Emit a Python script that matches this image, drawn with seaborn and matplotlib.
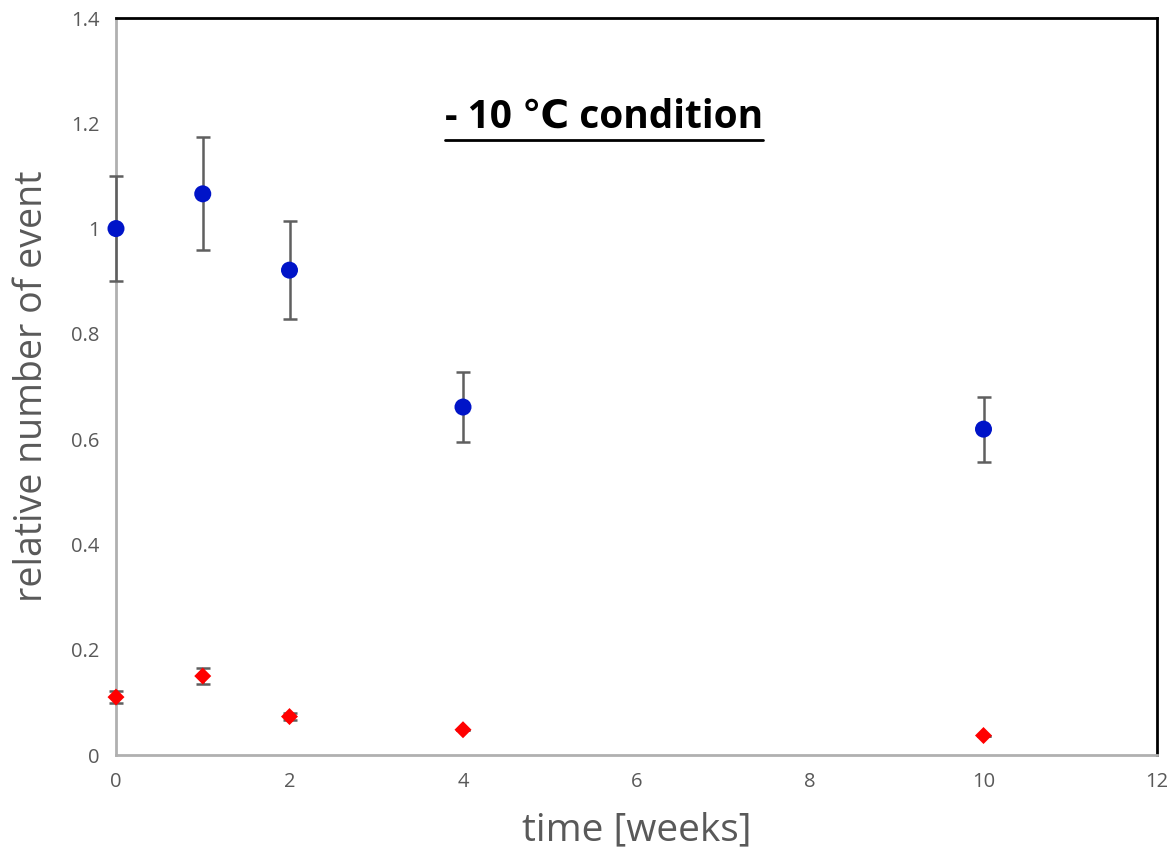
import numpy as np
import pandas as pd
import matplotlib
matplotlib.use('Agg')
import matplotlib.pyplot as plt
import seaborn as sns
from matplotlib.lines import Line2D

# data
weeks = [0, 1, 2, 4, 10]
blue_vals = [1.0, 1.066, 0.921, 0.661, 0.619]
blue_err = [0.10, 0.107, 0.093, 0.067, 0.062]
red_vals = [0.110, 0.150, 0.073, 0.048, 0.037]
red_err = [0.012, 0.016, 0.006, 0.0, 0.0]

sns.set_style('white')
plt.rcParams['font.family'] = ['Open Sans', 'DejaVu Sans']

df = pd.DataFrame({'time': weeks * 2,
                   'value': blue_vals + red_vals,
                   'err': blue_err + red_err,
                   'series': ['blue'] * 5 + ['red'] * 5})

fig = plt.figure(figsize=(11.71, 8.55), dpi=100)
ax = fig.add_axes([116 / 1171, 1 - 755 / 855, (1157 - 116) / 1171, (755 - 18) / 855])

# error bars first, markers on top
for s in ['blue', 'red']:
    d = df[df['series'] == s]
    eb = ax.errorbar(d['time'], d['value'], yerr=d['err'], fmt='none',
                     ecolor='#5f5f5f', elinewidth=1.8, capsize=5, capthick=1.8, zorder=4)
    for art in eb.lines[1] + eb.lines[2]:
        art.set_clip_on(False)

sns.scatterplot(data=df[df['series'] == 'blue'], x='time', y='value', ax=ax,
                color='#0014c8', marker='o', s=150, edgecolor='none', zorder=5,
                legend=False, clip_on=False)
sns.scatterplot(data=df[df['series'] == 'red'], x='time', y='value', ax=ax,
                color='#ff0000', marker='D', s=75, edgecolor='none', zorder=5,
                legend=False, clip_on=False)

ax.set_xlim(0, 12)
ax.set_ylim(0, 1.4)
ax.set_xticks(range(0, 13, 2))
ax.set_yticks(np.arange(0, 1.41, 0.2))
ax.set_yticklabels(['0', '0.2', '0.4', '0.6', '0.8', '1', '1.2', '1.4'])
ax.tick_params(length=0, labelsize=14.5, colors='#595959', pad=12)

for side in ['left', 'bottom']:
    ax.spines[side].set_color('#b0b0b0')
    ax.spines[side].set_linewidth(2)
for side in ['top', 'right']:
    ax.spines[side].set_color('black')
    ax.spines[side].set_linewidth(2)

ax.set_xlabel('time [weeks]', fontsize=28, color='#595959', labelpad=14)
ax.set_ylabel('relative number of event', fontsize=27, color='#595959', labelpad=14)

# underlined bold title inside the plot
title = ax.text(0.469, 0.865, '- 10 \u2103 condition', transform=ax.transAxes,
                ha='center', va='center', fontsize=28, fontweight='bold', color='black')
fig.canvas.draw()
bb = title.get_window_extent().transformed(fig.transFigure.inverted())
fig.add_artist(Line2D([bb.x0, bb.x1], [bb.y0 - 0.004, bb.y0 - 0.004],
                      transform=fig.transFigure, color='black', linewidth=2))

fig.savefig('out.png', dpi=100)
